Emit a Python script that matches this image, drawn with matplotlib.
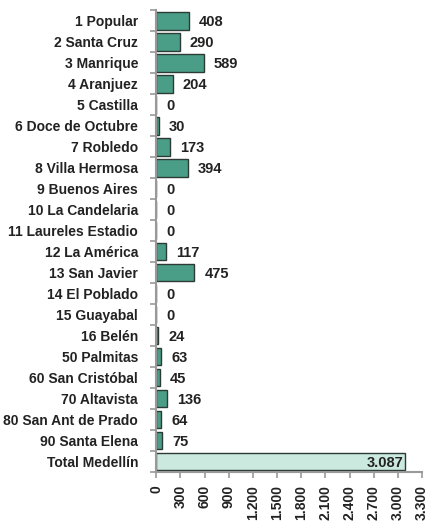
import matplotlib
matplotlib.use("Agg")
import matplotlib.pyplot as plt
import numpy as np

comunas = ["1 Popular", "2 Santa Cruz", "3 Manrique", "4 Aranjuez", "5 Castilla",
           "6 Doce de Octubre", "7 Robledo", "8 Villa Hermosa", "9 Buenos Aires",
           "10 La Candelaria", "11 Laureles Estadio", "12 La América", "13 San Javier",
           "14 El Poblado", "15 Guayabal", "16 Belén", "50 Palmitas", "60 San Cristóbal",
           "70 Altavista", "80 San Ant de Prado", "90 Santa Elena", "Total Medellín"]
valores = [408, 290, 589, 204, 0, 30, 173, 394, 0, 0, 0, 117, 475, 0, 0, 24,
           63, 45, 136, 64, 75, 3087]
x_ticks = list(range(0, 3301, 300))

plt.rcParams['font.family'] = ['Liberation Sans Narrow', 'Liberation Sans', 'DejaVu Sans']
plt.rcParams['font.weight'] = 'bold'

fig = plt.figure(figsize=(4.29, 5.23), dpi=100)
ax = fig.add_axes([0.364, 0.097, 0.62, 0.883])

n = len(comunas)
y = np.arange(n)
colores = ['#4a9e88'] * (n - 1) + ['#cbe9df']
ax.barh(y, valores, height=0.82, color=colores, edgecolor='#2b3a35', linewidth=1.0)

def fmt(v):
    return f"{v:,}".replace(",", ".")

for i, v in enumerate(valores):
    if i == n - 1:
        ax.text(v - 20, i + 0.05, fmt(v), ha='right', va='center', fontsize=10.5,
                color='#222222')
    else:
        ax.text(v + 125, i + 0.05, fmt(v), ha='left', va='center', fontsize=10.5,
                color='#222222')

ax.set_ylim(n - 0.5, -0.5)
ax.set_xlim(0, 3300)
ax.set_yticks(y)
ax.set_yticklabels(comunas, fontsize=10, color='#222222')
ax.set_yticks(np.arange(-0.5, n, 1), minor=True)
ax.tick_params(axis='y', which='major', length=0, pad=13)
ax.tick_params(axis='y', which='minor', length=4, color='#999999', width=1.2, direction='out')
ax.set_xticks(x_ticks)
ax.set_xticklabels([fmt(t) for t in x_ticks], rotation=90, fontsize=10, color='#222222')
ax.tick_params(axis='x', length=4, color='#999999', width=1.2, pad=5)

for s in ['top', 'right']:
    ax.spines[s].set_visible(False)
for s in ['left', 'bottom']:
    ax.spines[s].set_color('#999999')
    ax.spines[s].set_linewidth(1.5)

fig.savefig("out.png", dpi=100)
